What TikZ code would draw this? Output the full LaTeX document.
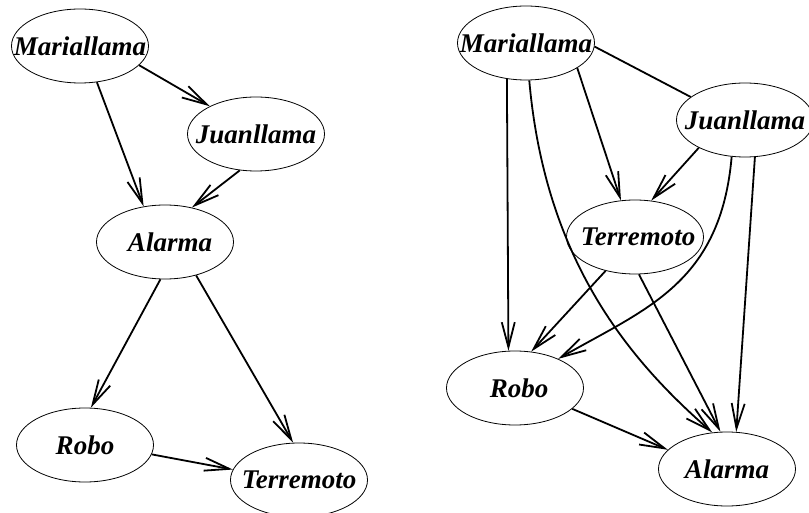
\documentclass[tikz,border=0pt]{standalone}
\usepackage{fontspec}
\setmainfont{Liberation Serif}
\usetikzlibrary{shapes.geometric,arrows.meta}

\begin{document}
\begin{tikzpicture}[x=1pt, y=-1pt,
font=\fontsize{27}{30}\selectfont\bfseries\itshape,
var/.style={
    ellipse, draw=black, line width=0.8pt,
    minimum width=137pt, minimum height=74pt, inner sep=0pt},
edge/.style={line width=1.8pt,
    -{Straight Barb[length=25pt,width=13pt,line width=1.8pt]}},
link/.style={line width=1.8pt},
]
\useasboundingbox (0,0) rectangle (809,513);

% left network
\node[var] (mariaL)  at (80,46)   {\makebox[0pt]{Mariallama}};
\node[var] (juanL)   at (256,134) {\makebox[0pt]{Juanllama}};
\node[var] (alarmaL) at (165,242) {\makebox[0pt]{\kern10pt Alarma}};
\node[var] (roboL)   at (85,445)  {\makebox[0pt]{Robo}};
\node[var] (terreL)  at (299,480) {\makebox[0pt]{Terremoto}};

\draw[edge] (mariaL.-18) -- (juanL.149);
\draw[edge] (mariaL.-65) -- (alarmaL.121);
\draw[edge] (juanL.-114) -- (alarmaL.52);
\draw[edge] (alarmaL.-97) -- (roboL.81);
\draw[edge] (alarmaL.-47) -- (terreL.99);
\draw[edge] (roboL.-8) -- (terreL.171);

% right network
\node[var] (mariaR)  at (526,43)  {\makebox[0pt]{Mariallama}};
\node[var] (juanR)   at (745,120) {\makebox[0pt]{Juanllama}};
\node[var] (terreR)  at (635,237) {\makebox[0pt]{\kern6pt Terremoto}};
\node[var] (roboR)   at (515,388) {\makebox[0pt]{\kern8pt Robo}};
\node[var] (alarmaR) at (727,469) {\makebox[0pt]{Alarma}};

\draw[link] (mariaR.-3) -- (juanR.157);
\draw[edge] (mariaR.-26) -- (terreR.111);
\draw[edge] (mariaR.-118) -- (roboR.100);
\draw[edge] (mariaR.-85) .. controls +(16,183) and +(-80,-70) .. (alarmaR.112);
\draw[edge] (juanR.-149) -- (terreR.66);
\draw[edge] (juanR.-110) .. controls +(-11,127) and +(87,-50) .. (roboR.34);
\draw[edge] (juanR.-75) -- (alarmaR.76);
\draw[edge] (terreR.-131) -- (roboR.66);
\draw[edge] (terreR.-84) -- (alarmaR.100);
\draw[edge] (roboR.-20) -- (alarmaR.162);

\end{tikzpicture}
\end{document}
